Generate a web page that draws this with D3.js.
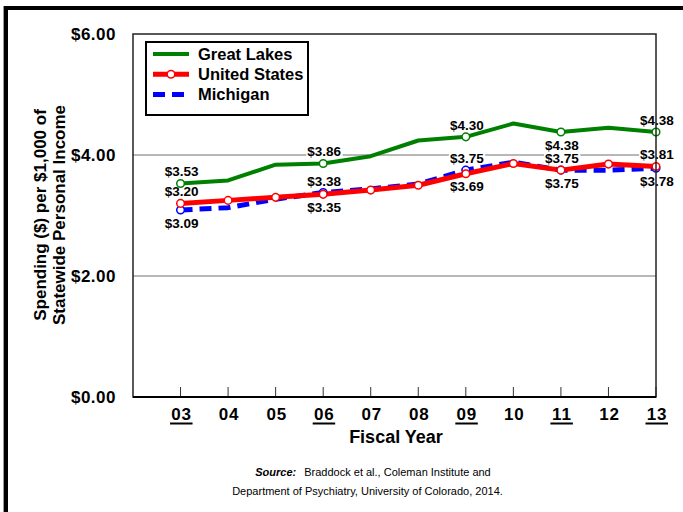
<!DOCTYPE html>
<html>
<head>
<meta charset="utf-8">
<script src="https://cdn.jsdelivr.net/npm/d3@7"></script>
<style>
  html, body { margin: 0; padding: 0; background: #fff; }
  svg { display: block; font-family: "Liberation Sans", Arial, sans-serif; }
</style>
</head>
<body>
<svg id="chart" width="683" height="512"></svg>
<script>
// ---- data ----
const years = ["03", "04", "05", "06", "07", "08", "09", "10", "11", "12", "13"];
const underlinedYears = ["03", "06", "09", "11", "13"];
const greatLakes   = [3.53, 3.58, 3.84, 3.86, 3.98, 4.24, 4.30, 4.52, 4.38, 4.45, 4.38];
const unitedStates = [3.20, 3.25, 3.30, 3.35, 3.42, 3.50, 3.69, 3.86, 3.75, 3.85, 3.81];
const michigan     = [3.09, 3.13, 3.27, 3.38, 3.44, 3.52, 3.75, 3.88, 3.75, 3.75, 3.78];
const yTicks = [0, 2, 4, 6];
const seriesNames = ["Great Lakes", "United States", "Michigan"];
// label placement at labelled years: "a" = above point, "b" = below point
const glLabelPos = ["a", "a", "a", "b", "a"];
const usLabelPos = ["a", "b", "b", "a", "a"];
const miLabelPos = ["b", "a", "a", "b", "b"];

// ---- layout ----
const svg = d3.select("#chart");
const plot = { left: 133, right: 656, top: 34, bottom: 397 };
const x = d3.scaleLinear().domain([-1, years.length - 1]).range([plot.left, plot.right]);
const y = d3.scaleLinear().domain([0, 6]).range([plot.bottom, plot.top]);

const series = [
  { name: seriesNames[0], values: greatLakes, color: "#008000", width: 4, dash: null,
    markers: underlinedYears, labels: glLabelPos },
  { name: seriesNames[2], values: michigan, color: "#0000ff", width: 5, dash: "12,7",
    markers: underlinedYears, labels: miLabelPos },
  { name: seriesNames[1], values: unitedStates, color: "#ff0000", width: 5, dash: null,
    markers: years, labels: usLabelPos }
];

// outer frame
svg.append("path").attr("d", "M3.5,512V6").attr("stroke", "#999").attr("stroke-width", 1).attr("fill", "none");
svg.append("path").attr("d", "M6,512V8H683").attr("stroke", "#000").attr("stroke-width", 4).attr("fill", "none");

// gridlines
svg.append("g").selectAll("line").data(yTicks.filter(t => t > 0 && t < 6)).join("line")
  .attr("x1", plot.left).attr("x2", plot.right)
  .attr("y1", d => y(d)).attr("y2", d => y(d))
  .attr("stroke", "#707070").attr("stroke-width", 1);

// y tick labels
svg.append("g").selectAll("text").data(yTicks).join("text")
  .attr("x", 116).attr("y", d => y(d)).attr("dy", "0.36em")
  .attr("text-anchor", "end").attr("font-size", 17).attr("font-weight", "bold")
  .attr("letter-spacing", 0.5)
  .text(d => "$" + d.toFixed(2));

// x ticks
svg.append("g").selectAll("line").data(years).join("line")
  .attr("x1", (d, i) => x(i)).attr("x2", (d, i) => x(i))
  .attr("y1", plot.bottom).attr("y2", plot.bottom - 10)
  .attr("stroke", "#333").attr("stroke-width", 1);

// x tick labels
const xl = svg.append("g").selectAll("g").data(years).join("g");
xl.append("text")
  .attr("x", (d, i) => x(i) + 1).attr("y", 420)
  .attr("text-anchor", "middle").attr("font-size", 17).attr("font-weight", "bold")
  .attr("letter-spacing", 0.8)
  .text(d => d);
xl.filter(d => underlinedYears.includes(d)).append("line")
  .each(function(d) {
    const i = years.indexOf(d);
    d3.select(this).attr("x1", x(i) - 10.5).attr("x2", x(i) + 12)
      .attr("y1", 423.5).attr("y2", 423.5);
  })
  .attr("stroke", "#000").attr("stroke-width", 2);

// axis titles
svg.append("text").attr("x", 396).attr("y", 443).attr("text-anchor", "middle")
  .attr("font-size", 18).attr("font-weight", "bold").text("Fiscal Year");
const yt = svg.append("text").attr("transform", "translate(0,215) rotate(-90)")
  .attr("text-anchor", "middle").attr("font-size", 17).attr("font-weight", "bold");
yt.append("tspan").attr("x", 0).attr("y", 46).text("Spending ($) per $1,000 of");
yt.append("tspan").attr("x", 0).attr("y", 65).text("Statewide Personal Income");

// label positions
const labelData = [];
series.forEach(s => {
  underlinedYears.forEach((yr, k) => {
    const i = years.indexOf(yr);
    const v = s.values[i];
    const base = s.labels[k] === "a" ? y(v) - 7 : y(v) + 17.5;
    labelData.push({ x: x(i) + 1, base: base, text: "$" + v.toFixed(2) });
  });
});

const labelG = svg.append("g");
const linesG = svg.append("g");
const markersG = svg.append("g");
const labelTexts = svg.append("g");

// lines
const line = d3.line().x((d, i) => x(i)).y(d => y(d));
series.forEach(s => {
  linesG.append("path").datum(s.values)
    .attr("d", line).attr("fill", "none")
    .attr("stroke", s.color).attr("stroke-width", s.width)
    .attr("stroke-dasharray", s.dash)
    .attr("stroke-linejoin", "round");
  markersG.append("g").selectAll("circle")
    .data(s.values.map((v, i) => ({ v, i })).filter(d => s.markers.includes(years[d.i])))
    .join("circle")
    .attr("cx", d => x(d.i)).attr("cy", d => y(d.v)).attr("r", 3.8)
    .attr("fill", "#fff").attr("stroke", s.color).attr("stroke-width", 1.5);
});

// plot border
svg.append("rect").attr("x", plot.left).attr("y", plot.top)
  .attr("width", plot.right - plot.left).attr("height", plot.bottom - plot.top)
  .attr("fill", "none").attr("stroke", "#222").attr("stroke-width", 1.5);
svg.append("line").attr("x1", plot.left).attr("x2", plot.right)
  .attr("y1", plot.bottom).attr("y2", plot.bottom)
  .attr("stroke", "#000").attr("stroke-width", 2);

// data labels
labelData.forEach(d => {
  const t = labelTexts.append("text").attr("x", d.x).attr("y", d.base)
    .attr("text-anchor", "middle").attr("font-size", 13.5).attr("font-weight", "bold")
    .text(d.text);
  const bb = t.node().getBBox();
  labelG.append("rect").attr("x", bb.x - 1).attr("y", d.base - 10.5)
    .attr("width", bb.width + 2).attr("height", 12.5).attr("fill", "#fff");
});

// legend
const lg = svg.append("g");
lg.append("rect").attr("x", 146).attr("y", 42).attr("width", 162).attr("height", 73)
  .attr("fill", "#fff").attr("stroke", "#000").attr("stroke-width", 2);
const legendOrder = [series[0], series[2], series[1]];
legendOrder.forEach((s, k) => {
  const ly = 54 + k * 20.2;
  lg.append("line").attr("x1", 153).attr("x2", 189).attr("y1", ly).attr("y2", ly)
    .attr("stroke", s.color).attr("stroke-width", s.width).attr("stroke-dasharray", s.dash);
  if (s.name === "United States") {
    lg.append("circle").attr("cx", 171).attr("cy", ly).attr("r", 3.8)
      .attr("fill", "#fff").attr("stroke", s.color).attr("stroke-width", 1.5);
  }
  lg.append("text").attr("x", 198).attr("y", ly + 6).attr("font-size", 16.5)
    .attr("font-weight", "bold").text(s.name);
});

// source
const src = svg.append("g").attr("font-size", 11);
const s1 = src.append("text").attr("x", 373).attr("y", 476).attr("text-anchor", "middle");
s1.append("tspan").attr("font-weight", "bold").attr("font-style", "italic").text("Source:");
s1.append("tspan").attr("dx", 8).text("Braddock et al., Coleman Institute and");
src.append("text").attr("x", 367.5).attr("y", 495).attr("text-anchor", "middle")
  .text("Department of Psychiatry, University of Colorado, 2014.");
</script>
</body>
</html>
